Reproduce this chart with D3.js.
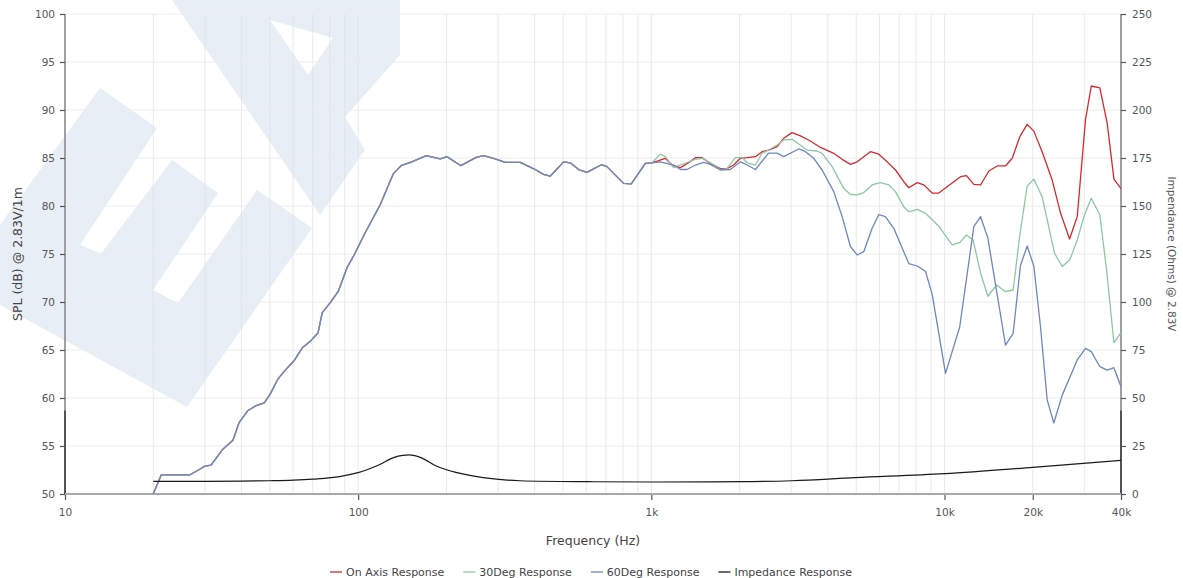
<!DOCTYPE html>
<html><head><meta charset="utf-8">
<script src="https://cdn.jsdelivr.net/npm/d3@7"></script>
<style>
body{margin:0;background:#fff;}
svg{display:block;font-family:"DejaVu Sans",sans-serif;}
</style></head><body>
<svg id="c" width="1183" height="578"></svg>
<script>
// ---------- data ----------
const xTickValues = [10, 100, 1000, 10000, 20000, 40000];
const xTickLabels = ["10", "100", "1k", "10k", "20k", "40k"];
const splTicks = [50, 55, 60, 65, 70, 75, 80, 85, 90, 95, 100];
const ohmTicks = [0, 25, 50, 75, 100, 125, 150, 175, 200, 225, 250];
const seriesNames = ["On Axis Response", "30Deg Response", "60Deg Response", "Impedance Response"];
const seriesColors = ["#d8282f", "#8ec7a3", "#6f87bb", "#1a1a1a"];

// below ~1 kHz all three SPL curves coincide
const sharedFreq = [20, 21.3, 24.7, 26.7, 28.9, 30, 31.5, 34.4, 37.4, 39.2, 42.1, 44.9, 47.8, 50.1, 53.3, 56.4, 60.5, 64.4, 69.1, 73, 75.4, 80.2, 85.5, 91.7, 97.7, 104.8, 111.7, 118.8, 132, 140, 152.4, 170.6, 190.5, 200.8, 224, 252.7, 267.7, 289.6, 317.5, 357, 396, 428.6, 452, 502, 529, 565, 603, 675, 706, 804, 854, 954];
const sharedSpl  = [50, 52, 52, 52, 52.6, 52.9, 53, 54.6, 55.6, 57.4, 58.7, 59.2, 59.5, 60.4, 62, 62.9, 63.9, 65.2, 66, 66.8, 68.9, 69.9, 71.1, 73.6, 75.1, 77.0, 78.6, 80.1, 83.4, 84.2, 84.6, 85.24, 84.9, 85.14, 84.2, 85.07, 85.24, 84.97, 84.55, 84.55, 83.9, 83.3, 83.1, 84.6, 84.5, 83.8, 83.5, 84.3, 84.1, 82.36, 82.3, 84.45];

const onAxisFreq = [1005, 1059, 1116, 1177, 1256, 1341, 1413, 1489, 1590, 1720, 1811, 1909, 2013, 2121, 2265, 2386, 2512, 2685, 2828, 3020, 3225, 3488, 3775, 4190, 4476, 4778, 5035, 5590, 5969, 6374, 6805, 7265, 7555, 8070, 8500, 9080, 9561, 10210, 11340, 11880, 12590, 13270, 14170, 15130, 16150, 17020, 18070, 19140, 20170, 21530, 23300, 24890, 26710, 28370, 30270, 31670, 33880, 35890, 37840, 40000];
const onAxisSpl  = [84.5, 84.72, 84.97, 84.27, 84.0, 84.5, 85.03, 85.03, 84.44, 83.9, 83.9, 84.27, 84.97, 85.03, 85.14, 85.66, 85.83, 86.18, 87.05, 87.64, 87.3, 86.77, 86.1, 85.49, 84.86, 84.34, 84.6, 85.66, 85.4, 84.6, 83.75, 82.53, 81.9, 82.43, 82.2, 81.35, 81.35, 82.0, 83.05, 83.16, 82.26, 82.19, 83.65, 84.17, 84.17, 84.97, 87.22, 88.5, 87.8, 85.66, 82.7, 79.24, 76.56, 78.9, 89.0, 92.5, 92.3, 88.6, 82.8, 81.8];

const deg30Freq = [1005, 1073, 1116, 1191, 1256, 1341, 1413, 1489, 1590, 1720, 1811, 1934, 2039, 2121, 2265, 2386, 2512, 2685, 2828, 3020, 3183, 3399, 3677, 3825, 4138, 4532, 4778, 5035, 5304, 5665, 6033, 6457, 6805, 7265, 7555, 8070, 8610, 9561, 10620, 11270, 11880, 12520, 13270, 14050, 15050, 16150, 17150, 18070, 19140, 20170, 21530, 23740, 25210, 26770, 28370, 29890, 31670, 33880, 35720, 37840, 40000];
const deg30Spl  = [84.5, 85.4, 85.14, 84.0, 84.27, 84.6, 84.86, 84.97, 84.5, 83.8, 83.9, 85.03, 85.07, 84.5, 84.27, 85.49, 85.83, 86.35, 86.88, 86.95, 86.46, 85.83, 85.73, 85.49, 84.1, 81.84, 81.2, 81.15, 81.4, 82.19, 82.43, 82.19, 81.5, 79.93, 79.4, 79.65, 79.24, 77.9, 75.94, 76.18, 76.98, 76.46, 73.05, 70.6, 71.77, 71.07, 71.25, 76.98, 82.08, 82.8, 80.97, 75.07, 73.7, 74.4, 76.46, 78.9, 80.8, 79.06, 73.33, 65.76, 66.8];

const deg60Freq = [1005, 1073, 1191, 1256, 1323, 1413, 1508, 1590, 1720, 1860, 2013, 2121, 2265, 2512, 2685, 2828, 3183, 3355, 3581, 3825, 4190, 4476, 4778, 5035, 5304, 5665, 5969, 6290, 6714, 7555, 8070, 8610, 9080, 10080, 11270, 12590, 13270, 14050, 16150, 17150, 18160, 19140, 20170, 21260, 22400, 23600, 25210, 28370, 30270, 31670, 33880, 35890, 37840, 40000];
const deg60Spl  = [84.5, 84.6, 84.27, 83.8, 83.8, 84.27, 84.55, 84.34, 83.75, 83.8, 84.6, 84.27, 83.8, 85.5, 85.5, 85.14, 85.94, 85.66, 84.97, 83.75, 81.5, 78.9, 75.76, 74.9, 75.24, 77.68, 79.1, 78.9, 77.68, 74.0, 73.75, 73.2, 70.8, 62.57, 67.4, 77.85, 78.9, 76.7, 65.5, 66.74, 73.8, 75.83, 73.75, 67.4, 59.8, 57.4, 60.3, 63.96, 65.17, 64.83, 63.26, 62.9, 63.16, 61.18];

const impFreq = [20, 30, 40, 50, 60, 70, 81, 90, 100, 117.5, 132.7, 142, 149, 156, 163, 184.6, 217.6, 267, 356, 608, 1000, 2000, 3020, 4945, 10000, 20000, 40000];
const impOhm  = [6.6, 6.6, 6.7, 6.9, 7.2, 7.7, 8.5, 9.6, 11.1, 15.1, 19.1, 20.1, 20.4, 20.0, 19.1, 14.6, 11.1, 8.5, 6.9, 6.4, 6.25, 6.4, 6.9, 8.5, 10.6, 13.9, 17.5];

// ---------- chart ----------
const W = 1183, H = 578;
const M = {left: 65, right: 62, top: 14, bottom: 84};
const x = d3.scaleLog().domain([10, 40000]).range([M.left, W - M.right]);
const yL = d3.scaleLinear().domain([50, 100]).range([H - M.bottom, M.top]);
const yR = d3.scaleLinear().domain([0, 250]).range([H - M.bottom, M.top]);
const svg = d3.select("#c");

// watermark (decorative background logo)
const wmColor = "#e8eef6";
const wmShapes = [
  [[172,0],[400,0],[400,55],[345,117],[365,150],[320,215]],
  [[100,88],[157,128],[80,245],[0,300],[0,225]],
  [[172,160],[218,193],[153,290],[100,255]],
  [[257,190],[312,228],[187,407],[0,305],[0,290],[80,245],[105,255],[153,290],[178,303]]
];
const wmHoles = [[[270,20],[333,38],[308,75]]];
const wm = svg.append("g");
wm.selectAll("polygon.s").data(wmShapes).join("polygon").attr("class","s")
  .attr("points", d => d.map(p => p.join(",")).join(" ")).attr("fill", wmColor);
wm.selectAll("polygon.h").data(wmHoles).join("polygon").attr("class","h")
  .attr("points", d => d.map(p => p.join(",")).join(" ")).attr("fill", "#fff");

// grid
const grid = svg.append("g");
const minorTicks = [];
[10, 100, 1000, 10000].forEach(d => { for (let k = 1; k <= 9; k++) { const v = d * k; if (v > 10 && v <= 40000) minorTicks.push(v); } });
grid.selectAll("line.v").data(minorTicks).join("line").attr("class","v")
  .attr("x1", d => x(d)).attr("x2", d => x(d)).attr("y1", M.top).attr("y2", H - M.bottom)
  .attr("stroke", "#dfe2e6").attr("stroke-width", 1).attr("opacity", 0.7);
grid.selectAll("line.h").data(splTicks.slice(1)).join("line").attr("class","h")
  .attr("x1", M.left).attr("x2", W - M.right).attr("y1", d => yL(d)).attr("y2", d => yL(d))
  .attr("stroke", "#ececec").attr("stroke-width", 1);

// axes
const axisG = svg.append("g");
axisG.append("line").attr("x1", M.left).attr("x2", M.left).attr("y1", M.top).attr("y2", H - M.bottom)
  .attr("stroke", "#8a8a8a").attr("stroke-width", 1.6);
axisG.append("line").attr("x1", W - M.right).attr("x2", W - M.right).attr("y1", M.top).attr("y2", H - M.bottom)
  .attr("stroke", "#8a8a8a").attr("stroke-width", 1.6);
axisG.append("line").attr("x1", M.left).attr("x2", M.left).attr("y1", yL(58.7)).attr("y2", H - M.bottom)
  .attr("stroke", "#222").attr("stroke-width", 1.2);
axisG.append("line").attr("x1", W - M.right).attr("x2", W - M.right).attr("y1", yL(58.7)).attr("y2", H - M.bottom)
  .attr("stroke", "#222").attr("stroke-width", 1.2);

const leftAxis = d3.axisLeft(yL).tickValues(splTicks).tickSize(5).tickPadding(5).tickFormat(d3.format("d"));
const gl = svg.append("g").attr("transform", `translate(${M.left},0)`).call(leftAxis);
const rightAxis = d3.axisRight(yR).tickValues(ohmTicks).tickSize(5).tickPadding(6).tickFormat(d3.format("d"));
const gr = svg.append("g").attr("transform", `translate(${W - M.right},0)`).call(rightAxis);
const bottomAxis = d3.axisBottom(x).tickValues(xTickValues).tickSize(6).tickPadding(9)
  .tickFormat((d, i) => xTickLabels[i]);
const gb = svg.append("g").attr("transform", `translate(0,${H - M.bottom})`).call(bottomAxis);
[gl, gr, gb].forEach(g => {
  g.select(".domain").remove();
  g.selectAll("text").attr("font-size", 10.5).attr("fill", "#555").attr("font-family", "DejaVu Sans, sans-serif");
  g.selectAll(".tick line").attr("stroke", "#555").attr("stroke-width", 1.2);
});
svg.append("line").attr("x1", M.left).attr("x2", W - M.right).attr("y1", H - M.bottom).attr("y2", H - M.bottom)
  .attr("stroke", "#a9a9a9").attr("stroke-width", 2);

// lines
const splLine = d3.line().x(d => x(d[0])).y(d => yL(d[1]));
const impLine = d3.line().x(d => x(d[0])).y(d => yR(d[1])).curve(d3.curveMonotoneX);
const zip = (a, b) => a.map((v, i) => [v, b[i]]);
const series = [
  zip(sharedFreq.concat(onAxisFreq), sharedSpl.concat(onAxisSpl)),
  zip(sharedFreq.concat(deg30Freq), sharedSpl.concat(deg30Spl)),
  zip(sharedFreq.concat(deg60Freq), sharedSpl.concat(deg60Spl))
];
const plot = svg.append("g");
series.forEach((s, i) => {
  plot.append("path").datum(s).attr("d", splLine).attr("fill", "none")
    .attr("stroke", seriesColors[i]).attr("stroke-width", 1.3).attr("stroke-linejoin", "round");
});
plot.append("path").datum(zip(impFreq, impOhm)).attr("d", impLine).attr("fill", "none")
  .attr("stroke", seriesColors[3]).attr("stroke-width", 1.2);

// titles
svg.append("text").attr("transform", `translate(22,${(M.top + H - M.bottom) / 2}) rotate(-90)`)
  .attr("text-anchor", "middle").attr("font-size", 12.5).attr("fill", "#444").text("SPL (dB) @ 2.83V/1m");
svg.append("text").attr("transform", `translate(1168,${(M.top + H - M.bottom) / 2}) rotate(90)`)
  .attr("text-anchor", "middle").attr("font-size", 10.5).attr("fill", "#555").text("Impendance (Ohms) @ 2.83V");
svg.append("text").attr("x", (M.left + W - M.right) / 2).attr("y", 545)
  .attr("text-anchor", "middle").attr("font-size", 12.5).attr("fill", "#444").text("Frequency (Hz)");

// legend
const leg = svg.append("g");
let cx = 0;
seriesNames.forEach((n, i) => {
  const g = leg.append("g");
  g.append("line").attr("x1", 0).attr("x2", 12).attr("y1", -4).attr("y2", -4)
    .attr("stroke", seriesColors[i]).attr("stroke-width", 1.3);
  const t = g.append("text").attr("x", 16).attr("y", 0).attr("font-size", 11).attr("fill", "#444").text(n);
  const w = 16 + t.node().getComputedTextLength();
  g.attr("transform", `translate(${cx},0)`);
  cx += w + 19;
});
const total = cx - 19;
leg.attr("transform", `translate(${591 - total / 2},576)`);
</script>
</body></html>
